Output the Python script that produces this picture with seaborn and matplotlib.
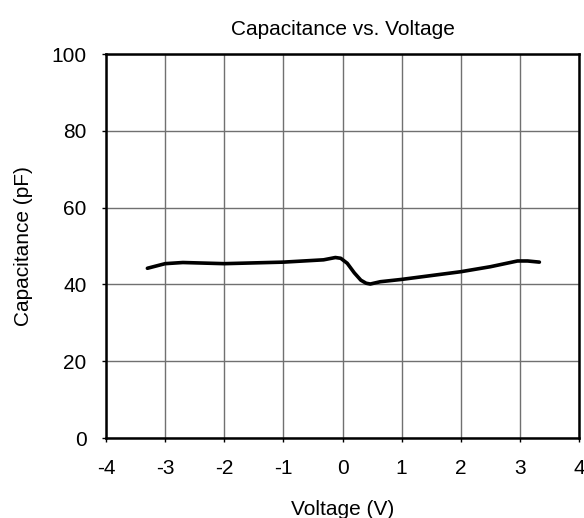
import matplotlib
matplotlib.use("Agg")
import matplotlib.pyplot as plt
import seaborn as sns
import pandas as pd

voltage = [-3.30, -3.0, -2.7, -2.0, -1.0, -0.32, -0.12, -0.03, 0.08, 0.2, 0.31, 0.40, 0.47, 0.64, 1.0, 2.0, 2.5, 2.96, 3.13, 3.33]
capacitance = [44.2, 45.4, 45.7, 45.4, 45.8, 46.4, 47.0, 46.8, 45.5, 43.0, 41.1, 40.3, 40.1, 40.7, 41.3, 43.3, 44.6, 46.1, 46.1, 45.8]
x_ticks = [-4, -3, -2, -1, 0, 1, 2, 3, 4]
y_ticks = [0, 20, 40, 60, 80, 100]

sns.set_style("white")
plt.rcParams['font.family'] = ['Liberation Sans', 'DejaVu Sans']
plt.rcParams['text.color'] = 'black'
plt.rcParams['axes.labelcolor'] = 'black'
plt.rcParams['xtick.color'] = 'black'
plt.rcParams['ytick.color'] = 'black'

df = pd.DataFrame({"Voltage": voltage, "Capacitance": capacitance})

fig = plt.figure(figsize=(5.84, 5.18), dpi=100)
ax = fig.add_axes([106/584, 1-438/518, (579-106)/584, (438-54)/518])

sns.lineplot(data=df, x="Voltage", y="Capacitance", sort=False, color="black",
             linewidth=2.6, ax=ax, zorder=5)

ax.set_xlim(-4, 4)
ax.set_ylim(0, 100)
ax.set_xticks(x_ticks)
ax.set_yticks(y_ticks)
ax.set_xticklabels([str(v) for v in x_ticks])
ax.set_yticklabels([str(v) for v in y_ticks])
ax.grid(True, color="#707070", linewidth=1.0)
for s in ax.spines.values():
    s.set_color("black")
    s.set_linewidth(1.8)
    s.set_visible(True)
ax.tick_params(axis="y", which="both", left=True, length=3, width=1, colors="black",
               labelsize=15, pad=11)
ax.tick_params(axis="x", which="both", bottom=True, length=3, width=1, colors="black",
               labelsize=15, pad=12)
ax.set_xlabel("Voltage (V)", fontsize=15, labelpad=16, color="black")
ax.set_ylabel("Capacitance (pF)", fontsize=15, labelpad=13, color="black")
ax.set_title("Capacitance vs. Voltage", fontsize=15, pad=14, color="black")

fig.savefig("out.png", dpi=100)
